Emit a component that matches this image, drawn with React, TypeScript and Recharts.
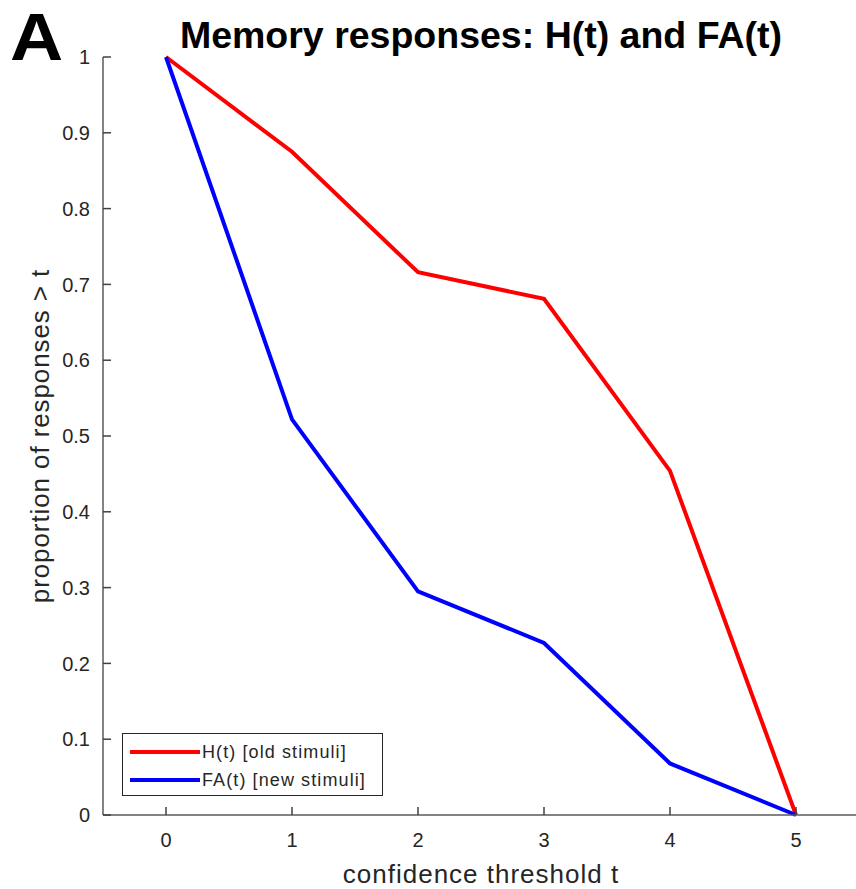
import { LineChart, Line, XAxis, YAxis, Legend } from "recharts";

// confidence thresholds t
const thresholds = [0, 1, 2, 3, 4, 5];
// H(t): hits, old stimuli
const hits = [1, 0.875, 0.716, 0.681, 0.454, 0];
// FA(t): false alarms, new stimuli
const falseAlarms = [1, 0.522, 0.295, 0.227, 0.068, 0];

const xTicks = [0, 1, 2, 3, 4, 5];
const yTicks = [0, 0.1, 0.2, 0.3, 0.4, 0.5, 0.6, 0.7, 0.8, 0.9, 1];

const seriesNames = ["H(t) [old stimuli]", "FA(t) [new stimuli]"];
const seriesColors = ["#ff0000", "#0000ff"];

const data = thresholds.map((t, i) => ({
  t,
  hits: hits[i],
  fa: falseAlarms[i],
}));

const FONT = "'Liberation Sans', Arial, sans-serif";
const AXIS = "#5a5a5a";
const TICK = "#404040";
const TEXT = "#262626";
const TICK_LEN = 8;
const X_MARGIN = 18;
const Y_MARGIN = 13;

function BottomTick({ x, y, payload }: any) {
  const axisY = y - X_MARGIN;
  return (
    <g>
      <line x1={x} x2={x} y1={axisY} y2={axisY - TICK_LEN} stroke={TICK} strokeWidth={1.5} />
      <text x={x} y={y} dy="0.71em" textAnchor="middle" fill={TEXT} fontSize={20} fontFamily={FONT}>
        {payload.value}
      </text>
    </g>
  );
}

function LeftTick({ x, y, payload }: any) {
  const axisX = x + Y_MARGIN;
  return (
    <g>
      <line x1={axisX} x2={axisX + TICK_LEN} y1={y} y2={y} stroke={TICK} strokeWidth={1.5} />
      <text x={x} y={y} dy="0.355em" textAnchor="end" fill={TEXT} fontSize={20} fontFamily={FONT}>
        {payload.value}
      </text>
    </g>
  );
}

function TopTick({ x, y }: any) {
  return <line x1={x} x2={x} y1={y} y2={y + TICK_LEN} stroke={TICK} strokeWidth={1.5} />;
}

function RightTick({ x, y }: any) {
  return <line x1={x} x2={x - TICK_LEN} y1={y} y2={y} stroke={TICK} strokeWidth={1.5} />;
}

function LegendBox() {
  return (
    <div
      style={{
        border: "1.5px solid #262626",
        background: "#fff",
        width: 261,
        height: 63,
        padding: "4px 0 0 7px",
        fontFamily: FONT,
        fontSize: 18,
        letterSpacing: 1.1,
        color: TEXT,
        boxSizing: "border-box",
      }}
    >
      {seriesNames.map((name, i) => (
        <div key={name} style={{ display: "flex", alignItems: "center", height: 28, whiteSpace: "nowrap" }}>
          <span
            style={{
              display: "inline-block",
              width: 70,
              height: 4,
              background: seriesColors[i],
              marginRight: 2,
            }}
          />
          {name}
        </div>
      ))}
    </div>
  );
}

export default function App() {
  return (
    <div
      style={{
        position: "absolute",
        left: 0,
        top: 0,
        width: 856,
        height: 889,
        overflow: "hidden",
        background: "#fff",
      }}
    >
      <div
        style={{
          position: "absolute",
          left: 10,
          top: 3,
          fontFamily: FONT,
          fontWeight: "bold",
          fontSize: 67,
          lineHeight: 1,
          color: "#000",
          transform: "scaleX(1.1)",
          transformOrigin: "left top",
        }}
      >
        A
      </div>
      <div
        style={{
          position: "absolute",
          left: 103,
          width: 756,
          top: 17,
          textAlign: "center",
          fontFamily: FONT,
          fontWeight: "bold",
          fontSize: 37.5,
          lineHeight: 1,
          color: "#000",
          whiteSpace: "nowrap",
        }}
      >
        Memory responses: H(t) and FA(t)
      </div>
      <LineChart
        width={860}
        height={889}
        data={data}
        margin={{ top: 57, right: 1, bottom: 0, left: 0 }}
        style={{ position: "absolute", left: 0, top: 0, fontFamily: FONT }}
      >
        <XAxis
          xAxisId="bottom"
          dataKey="t"
          type="number"
          domain={[-0.5, 5.5]}
          ticks={xTicks}
          interval={0}
          height={74}
          stroke={AXIS}
          strokeWidth={1.5}
          tickLine={false}
          tickSize={0}
          tickMargin={X_MARGIN}
          tick={BottomTick}
          label={{
            value: "confidence threshold t",
            position: "insideBottom",
            offset: 6,
            fill: TEXT,
            fontSize: 26,
            letterSpacing: 1,
          }}
        />
        <XAxis
          xAxisId="top"
          orientation="top"
          dataKey="t"
          type="number"
          domain={[-0.5, 5.5]}
          ticks={xTicks}
          interval={0}
          height={0}
          stroke={AXIS}
          strokeWidth={1.5}
          tickLine={false}
          tickSize={0}
          tickMargin={0}
          tick={TopTick}
        />
        <YAxis
          yAxisId="left"
          type="number"
          domain={[0, 1]}
          ticks={yTicks}
          interval={0}
          width={103}
          stroke={AXIS}
          strokeWidth={1.5}
          tickLine={false}
          tickSize={0}
          tickMargin={Y_MARGIN}
          tick={LeftTick}
          label={{
            value: "proportion of responses > t",
            angle: -90,
            position: "insideLeft",
            offset: 40,
            fill: TEXT,
            fontSize: 26,
            letterSpacing: 0.9,
            textAnchor: "middle",
          }}
        />
        <YAxis
          yAxisId="right"
          orientation="right"
          type="number"
          domain={[0, 1]}
          ticks={yTicks}
          interval={0}
          width={0}
          stroke={AXIS}
          strokeWidth={1.5}
          tickLine={false}
          tickSize={0}
          tickMargin={0}
          tick={RightTick}
        />
        <Legend
          layout="horizontal"
          verticalAlign="middle"
          align="center"
          wrapperStyle={{ left: 122, top: 733, width: "auto" }}
          content={<LegendBox />}
        />
        <Line
          xAxisId="bottom"
          yAxisId="left"
          type="linear"
          dataKey="hits"
          name={seriesNames[0]}
          stroke={seriesColors[0]}
          strokeWidth={4}
          dot={false}
          isAnimationActive={false}
        />
        <Line
          xAxisId="bottom"
          yAxisId="left"
          type="linear"
          dataKey="fa"
          name={seriesNames[1]}
          stroke={seriesColors[1]}
          strokeWidth={4}
          dot={false}
          isAnimationActive={false}
        />
      </LineChart>
    </div>
  );
}
